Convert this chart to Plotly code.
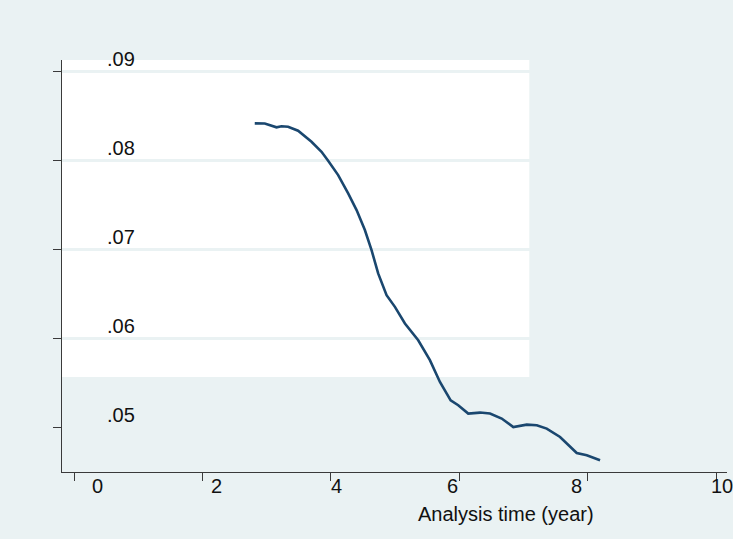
import plotly.graph_objects as go

# Curve data (analysis time in years, estimated value)
time_years = [2.815, 2.971, 3.154, 3.232, 3.334, 3.490, 3.699, 3.855, 3.958, 4.114,
              4.270, 4.401, 4.530, 4.634, 4.737, 4.868, 4.998, 5.154, 5.361, 5.543,
              5.699, 5.866, 5.984, 6.140, 6.323, 6.479, 6.661, 6.842, 7.051, 7.207,
              7.362, 7.570, 7.830, 7.986, 8.193]
values = [0.08420, 0.08418, 0.08375, 0.08387, 0.08382, 0.08337, 0.08213, 0.08101, 0.08000, 0.07839,
          0.07634, 0.07446, 0.07222, 0.06997, 0.06735, 0.06491, 0.06360, 0.06173, 0.05985, 0.05761,
          0.05517, 0.05311, 0.05255, 0.05162, 0.05173, 0.05162, 0.05106, 0.05011, 0.05038, 0.05030,
          0.04993, 0.04899, 0.04719, 0.04693, 0.04637]

# Axis ticks and their (displaced) labels
x_tick_vals = [0, 2, 4, 6, 8, 10]
x_tick_labels = ["0", "2", "4", "6", "8", "10"]
x_label_pos = [0.368, 2.218, 4.089, 5.902, 7.830, 10.09]
y_tick_vals = [0.05, 0.06, 0.07, 0.08, 0.09]
y_tick_labels = [".05", ".06", ".07", ".08", ".09"]
x_title = "Analysis time (year)"

BG = "#EAF2F3"
NAVY = "#1A476F"
AXIS = "#3a3a3a"
FONT = dict(family="Liberation Sans, Arial", size=20, color="#111")

x_range = [-0.187, 10.17]
y_range = [0.04506, 0.09131]

W, H = 733, 539
ML, MR, MT, MB = 62.3, 6, 60, 67.3
PW = W - ML - MR

fig = go.Figure()
fig.add_trace(go.Scatter(x=time_years, y=values, mode="lines",
                         line=dict(color=NAVY, width=2.6), showlegend=False,
                         hoverinfo="skip"))

# partial white plot region (as in the reference)
fig.add_shape(type="rect", xref="x", yref="y", layer="below",
              x0=x_range[0], x1=7.091, y0=0.05573, y1=y_range[1] + 0.0001,
              fillcolor="white", line=dict(width=0))

annotations = []
for v, t in zip(x_label_pos, x_tick_labels):
    annotations.append(dict(x=v, y=0, xref="x", yref="paper", text=t, showarrow=False,
                            xanchor="center", yanchor="middle", yshift=-14, font=FONT))
for v, t in zip(y_tick_vals, y_tick_labels):
    annotations.append(dict(x=(121 - ML) / PW, y=v, xref="paper", yref="y", text=t,
                            showarrow=False, xanchor="center", yanchor="middle",
                            yshift=12.8, font=FONT))
annotations.append(dict(x=(506.5 - ML) / PW, y=0, xref="paper", yref="paper", text=x_title,
                        showarrow=False, xanchor="center", yanchor="middle",
                        yshift=-(514 - 471.7), font=FONT))

fig.update_layout(
    width=W, height=H,
    margin=dict(l=ML, r=MR, t=MT, b=MB, pad=0),
    paper_bgcolor=BG, plot_bgcolor=BG,
    annotations=annotations,
    xaxis=dict(range=x_range, tickvals=x_tick_vals, showticklabels=False,
               ticks="outside", ticklen=8, tickwidth=1, tickcolor=AXIS,
               showline=True, linecolor=AXIS, linewidth=1.2,
               showgrid=False, zeroline=False),
    yaxis=dict(range=y_range, tickvals=y_tick_vals, showticklabels=False,
               ticks="outside", ticklen=8, tickwidth=1, tickcolor=AXIS,
               showline=True, linecolor=AXIS, linewidth=1.2,
               showgrid=True, gridcolor=BG, gridwidth=2.5, zeroline=False),
)

fig.write_html("out.html", config={"displayModeBar": False},
               post_script="document.body.style.margin='0';document.body.style.overflow='hidden';")
